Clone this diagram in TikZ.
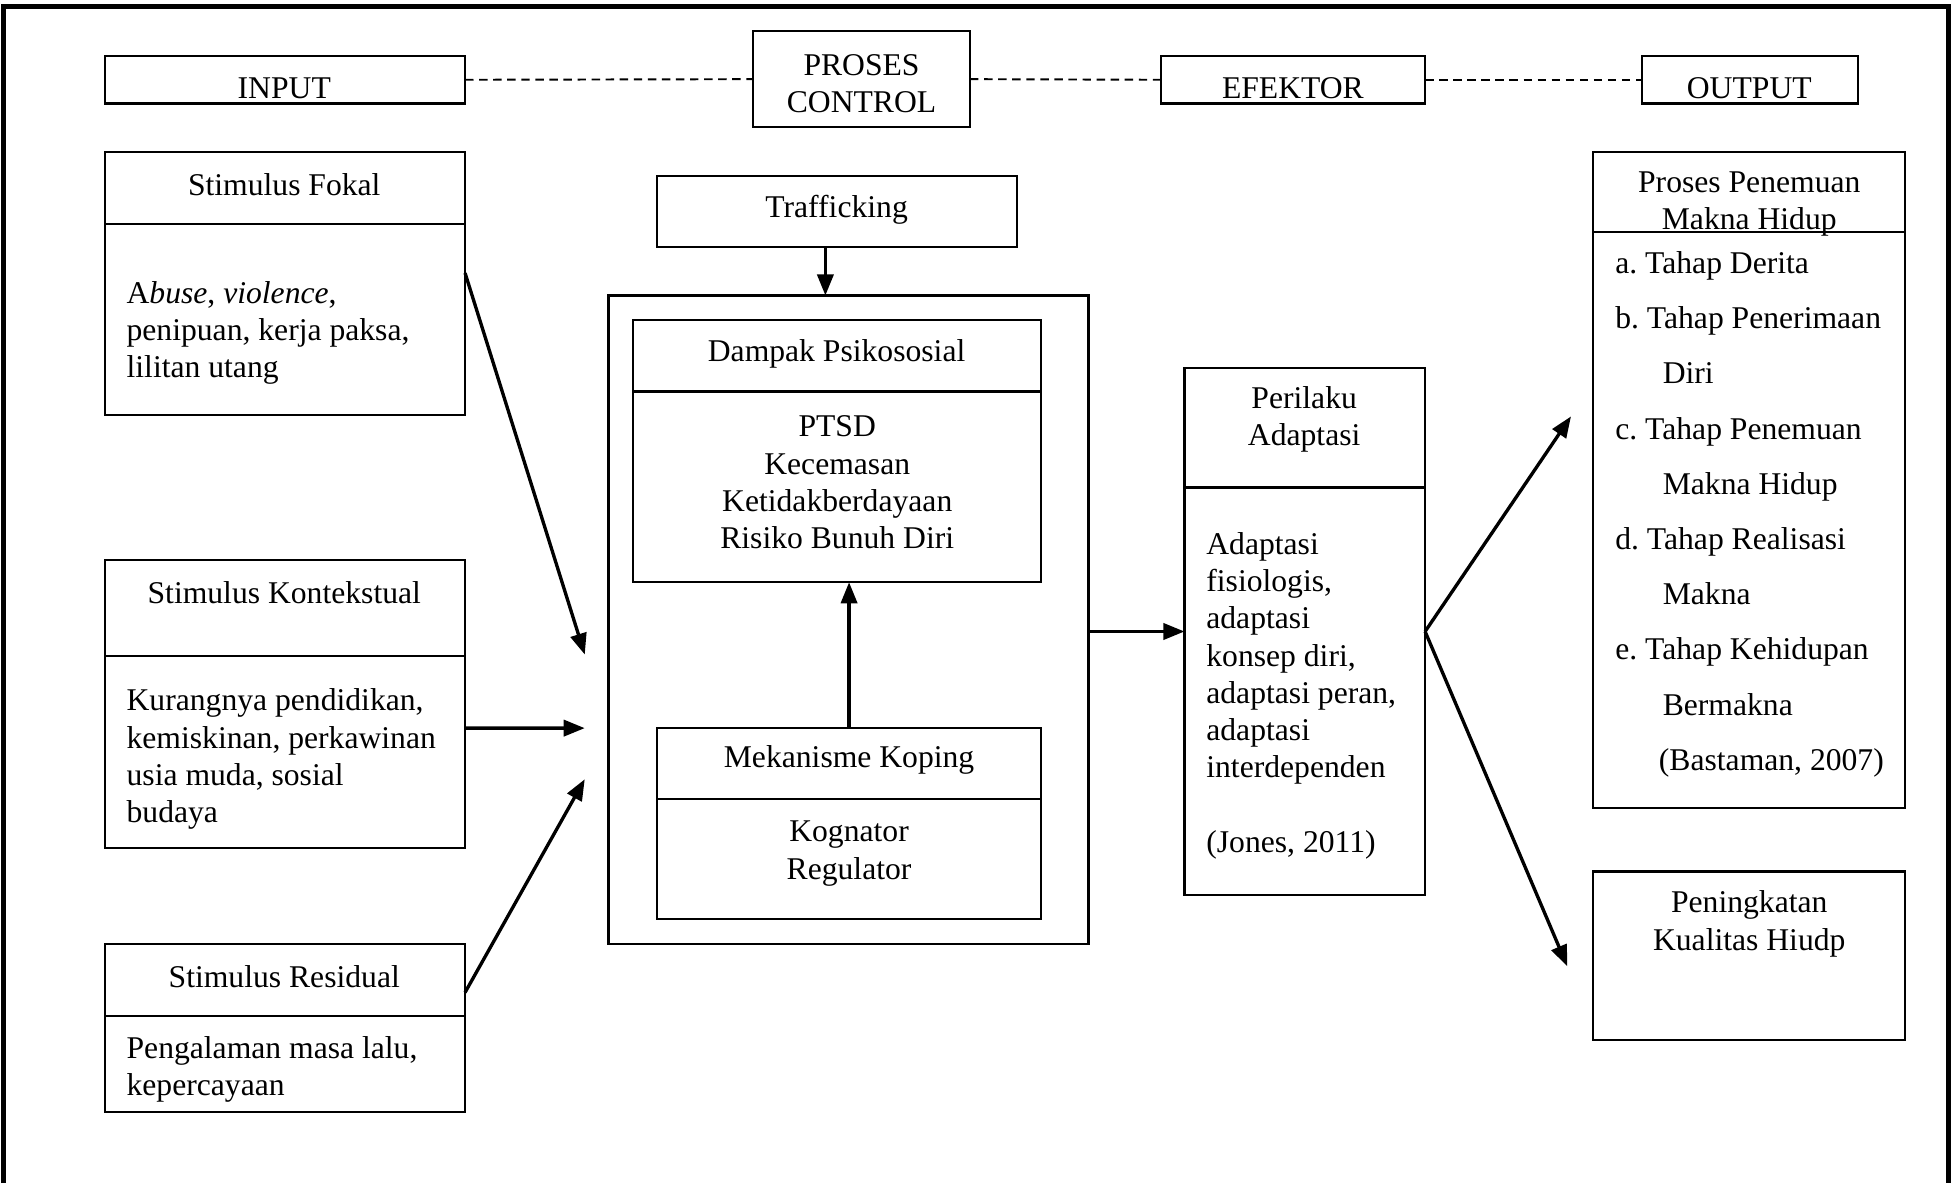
\documentclass[tikz,border=0pt]{standalone}
\usepackage{fontspec}
\setmainfont{Liberation Serif}
\usetikzlibrary{arrows.meta,calc}
\newcommand\pu{0.012468cm}
\tikzset{
  bx/.style={draw, line width=0.6pt, inner sep=0pt, outer sep=0pt},
  txt/.style={inner sep=0pt, font=\fontsize{9}{10.6}\selectfont, align=center, yshift=-2.5*\pu},
  ltxt/.style={inner sep=0pt, font=\fontsize{9}{10.6}\selectfont, align=left, anchor=west, yshift=-3*\pu},
  arr/.style={line width=0.95pt, -{Triangle[length=6pt,width=4.6pt]}},
  dashline/.style={line width=0.55pt, dash pattern=on 2.4pt off 1.6pt},
  frameline/.style={line width=1.5pt},
  divider/.style={line width=0.6pt}
}
\newcommand\mkbox[5]{\node[bx, anchor=north west, minimum width=#4*\pu, minimum height=#5*\pu] (#1) at (#2,#3) {};}
\begin{document}
\begin{tikzpicture}[x=\pu, y=-\pu]
\useasboundingbox (0,0) rectangle (1568,949);
% outer frame
\draw[frameline] (3,949) -- (3,5) -- (1563,5) -- (1563,949);

% header boxes
\mkbox{input}{84}{45}{289}{38}
\mkbox{proses}{604}{25}{174}{77}
\mkbox{efektor}{931}{45}{212}{38}
\mkbox{output}{1317}{45}{173}{38}
\node[txt] (tinput) at (228,68) {INPUT};
\node[txt] (tproses) at (691,64.5) {PROSES\\CONTROL};
\node[txt] (tefektor) at (1037,68) {EFEKTOR};
\node[txt] (toutput) at (1403,68) {OUTPUT};
\draw[dashline] (input.east) -- (proses.west);
\draw[dashline] (proses.east) -- (efektor.west);
\draw[dashline] (efektor.east) -- (output.west);

% left column
\mkbox{fokal}{84}{122}{289}{211}
\mkbox{kont}{84}{449}{289}{231}
\mkbox{resid}{84}{757}{289}{135}
\draw[divider] (fokal.west |- 0,180) -- (fokal.east |- 0,180);
\draw[divider] (kont.west |- 0,526) -- (kont.east |- 0,526);
\draw[divider] (resid.west |- 0,815) -- (resid.east |- 0,815);
\node[txt] (tfokal) at (228,146) {Stimulus Fokal};
\node[txt] (tkont) at (228,473) {Stimulus Kontekstual};
\node[txt] (tresid) at (228,781) {Stimulus Residual};
\node[ltxt] (bfokal) at (101,264) {A\textit{buse}, \textit{violence},\\penipuan, kerja paksa,\\lilitan utang};
\node[ltxt] (bkont) at (101,606) {Kurangnya pendidikan,\\kemiskinan, perkawinan\\usia muda, sosial\\budaya};
\node[ltxt] (bresid) at (101,855) {Pengalaman masa lalu,\\kepercayaan};

% centre
\mkbox{traff}{527}{141}{289}{57}
\mkbox{ctrl}{488}{237}{385}{520}
\mkbox{dampak}{508}{257}{327}{210}
\mkbox{mek}{527}{584}{308}{153}
\draw[divider] (dampak.west |- 0,314) -- (dampak.east |- 0,314);
\draw[divider] (mek.west |- 0,641) -- (mek.east |- 0,641);
\node[txt] (ttraff) at (671,166) {Trafficking};
\node[txt] (tdampak) at (671,281) {Dampak Psikososial};
\node[txt] (bdampak) at (671.5,384.5) {PTSD\\Kecemasan\\Ketidakberdayaan\\Risiko Bunuh Diri};
\node[txt] (tmek) at (681,607) {Mekanisme Koping};
\node[txt] (bmek) at (681,682) {Kognator\\Regulator};

% effector
\mkbox{peril}{950}{295}{193}{423}
\draw[divider] (peril.west |- 0,391) -- (peril.east |- 0,391);
\node[txt] (tperil) at (1046,334) {Perilaku\\Adaptasi};
\node[ltxt] (bperil) at (967,555) {Adaptasi\\fisiologis,\\adaptasi\\konsep diri,\\adaptasi peran,\\adaptasi\\interdependen\\[10.6pt](Jones, 2011)};

% output
\mkbox{penem}{1278}{122}{250}{526}
\mkbox{pening}{1278}{699}{250}{135}
\draw[divider] (penem.west |- 0,186) -- (penem.east |- 0,186);
\node[txt] (tpenem) at (1403,161) {Proses Penemuan\\Makna Hidup};
\node[ltxt, font=\fontsize{9}{15.7}\selectfont] (bpenem) at (1295,409.5) {a.\ Tahap Derita\\b.\ Tahap Penerimaan\\\hspace*{13.5pt}Diri\\c.\ Tahap Penemuan\\\hspace*{13.5pt}Makna Hidup\\d.\ Tahap Realisasi\\\hspace*{13.5pt}Makna\\e.\ Tahap Kehidupan\\\hspace*{13.5pt}Bermakna\\\hspace*{12.4pt}(Bastaman, 2007)};
\node[txt] (tpening) at (1403,738.5) {Peningkatan\\Kualitas Hiudp};

% connectors
\coordinate (a1) at (469,525);
\coordinate (a2) at (469,584);
\coordinate (a3) at (469,625);
\coordinate (a4) at (1260,334);
\coordinate (a5) at (1257,775);
\draw[arr] ([yshift=8.5*\pu]fokal.east) -- (a1);
\draw[arr] ([yshift=-19.5*\pu]kont.east) -- (a2);
\draw[arr] ([yshift=28.5*\pu]resid.east) -- (a3);
\draw[arr] ([xshift=-9.5*\pu]traff.south) -- ([xshift=-9.5*\pu]traff.south |- ctrl.north);
\draw[arr] (mek.north) -- (mek.north |- dampak.south);
\draw[arr] (ctrl.east |- peril.west) -- (peril.west);
\draw[arr] (peril.east) -- (a4);
\draw[arr] (peril.east) -- (a5);
\end{tikzpicture}
\end{document}
